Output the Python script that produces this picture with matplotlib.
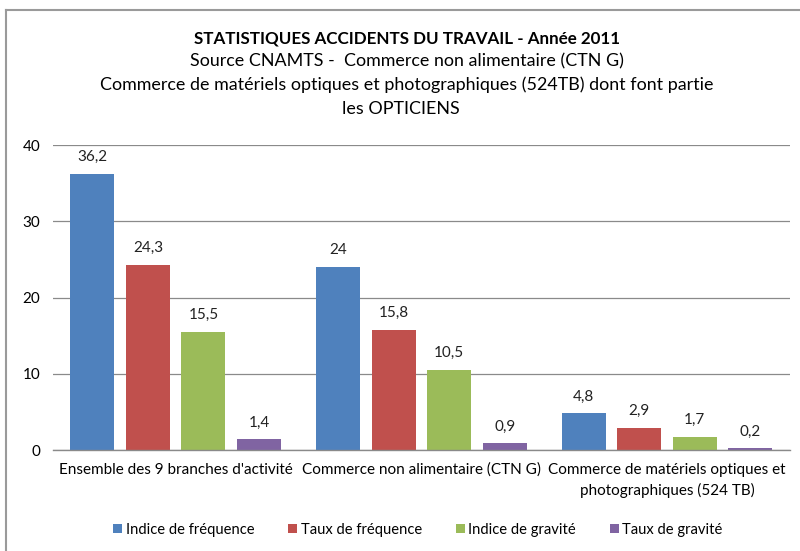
import matplotlib
matplotlib.use("Agg")
import matplotlib.pyplot as plt
import numpy as np
from matplotlib.lines import Line2D

plt.rcParams['font.family'] = ['Lato', 'DejaVu Sans']

categories = ["Ensemble des 9 branches d'activité",
              "Commerce non alimentaire (CTN G)",
              "Commerce de matériels optiques et\nphotographiques (524 TB)"]
series_names = ["Indice de fréquence", "Taux de fréquence",
                "Indice de gravité", "Taux de gravité"]
indice_frequence = [36.2, 24.0, 4.8]
taux_frequence = [24.3, 15.8, 2.9]
indice_gravite = [15.5, 10.5, 1.7]
taux_gravite = [1.4, 0.9, 0.2]
series = [indice_frequence, taux_frequence, indice_gravite, taux_gravite]
colors = ["#4F81BD", "#C0504D", "#9BBB59", "#8064A2"]
yticks = [0, 10, 20, 30, 40]

fig = plt.figure(figsize=(8, 5.51), dpi=100)
ax = fig.add_axes([0.066, 0.1833, 0.9215, 0.5535])

x = np.arange(len(categories))
pitch = 0.226
width = 0.179
for i, (vals, c) in enumerate(zip(series, colors)):
    pos = x + (i - 1.5) * pitch
    ax.bar(pos, vals, width, color=c, label=series_names[i], zorder=3)
    for p, v in zip(pos, vals):
        lab = f"{v:g}".replace('.', ',')
        ax.annotate(lab, (p, v), xytext=(0, 7), textcoords='offset points',
                    ha='center', va='bottom', fontsize=11, color='#222222')

ax.set_xlim(-0.5, 2.5)
ax.set_ylim(0, 40)
ax.set_yticks(yticks)
ax.set_yticklabels([str(t) for t in yticks], fontsize=11)
ax.yaxis.grid(True, color='#8a8a8a', linewidth=0.9, zorder=0)
ax.set_axisbelow(True)
ax.set_xticks(x)
ax.set_xticklabels(categories, fontsize=11, linespacing=1.5)
ax.tick_params(axis='x', length=0, pad=9)
ax.tick_params(axis='y', length=0, pad=9)
for s in ['top', 'right', 'left']:
    ax.spines[s].set_visible(False)
ax.spines['bottom'].set_color('#8a8a8a')
ax.spines['bottom'].set_linewidth(1.0)
ax.spines['bottom'].set_zorder(5)

# title lines
fig.text(407/800, 1 - 38/551, "STATISTIQUES ACCIDENTS DU TRAVAIL - Année 2011",
         ha='center', va='center', fontsize=12.25, fontweight='bold')
fig.text(407/800, 1 - 61.5/551, "Source CNAMTS -  Commerce non alimentaire (CTN G)",
         ha='center', va='center', fontsize=12.9)
fig.text(407/800, 1 - 85/551, "Commerce de matériels optiques et photographiques (524TB) dont font partie",
         ha='center', va='center', fontsize=12.9)
fig.text(401/800, 1 - 108.5/551, "les OPTICIENS",
         ha='center', va='center', fontsize=12.9)

ax.legend(loc='center', bbox_to_anchor=(418/800, 1 - 530/551), bbox_transform=fig.transFigure,
          ncol=4, frameon=False, fontsize=10.6, handlelength=0.6, handleheight=0.6,
          handletextpad=0.25, columnspacing=2.3)

# chart border (left and top)
fig.add_artist(Line2D([6/800, 6/800], [0, 1 - 10/551], transform=fig.transFigure,
                      color='#9a9a9a', linewidth=1.5))
fig.add_artist(Line2D([6/800, 1], [1 - 10/551, 1 - 10/551], transform=fig.transFigure,
                      color='#9a9a9a', linewidth=1.5))

fig.savefig("out.png", dpi=100)
